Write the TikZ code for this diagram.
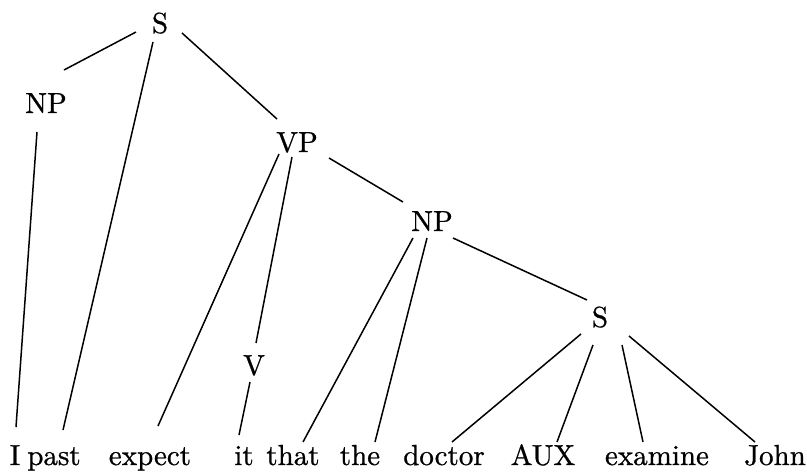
\documentclass[tikz,border=0pt]{standalone}
\usepackage{fontspec}
\newfontface\treefont{lmroman10-regular.otf}[FakeBold=0.8]
\usetikzlibrary{calc}
\begin{document}
\begin{tikzpicture}[x=1pt,y=-1pt,
  lab/.style={anchor=base,inner sep=0pt,font=\treefont\fontsize{29}{35}\selectfont},
  word/.style={anchor=base,inner sep=0pt,font=\treefont\fontsize{29}{35}\selectfont},
  edge/.style={line width=1.5pt}]
\useasboundingbox (0,0) rectangle (807,474);
\fill[white] (0,0) rectangle (807,474);
% category labels
\node[lab] (S1)  at (160,33)  {S};
\node[lab] (NP1) at (46,113)  {NP};
\node[lab] (VP)  at (297,152) {VP};
\node[lab] (NP2) at (432,231) {NP};
\node[lab] (S2)  at (600,327) {S};
\node[lab] (V)   at (254,375) {V};
% words
\node[word] (wI)       at (15,465)  {I};
\node[word] (wpast)    at (54,465)  {past};
\node[word] (wexpect)  at (150,465) {expect};
\node[word] (wit)      at (244,465) {it};
\node[word] (wthat)    at (293,465) {that};
\node[word] (wthe)     at (360,465) {the};
\node[word] (wdoctor)  at (444,465) {doctor};
\node[word] (wAUX)     at (543,465) {AUX};
\node[word] (wexamine) at (657,465) {examine};
\node[word] (wJohn)    at (775,465) {John};
% connectors
\draw[edge] ($(S1.base)+(-24,-1)$) -- ($(NP1.base)+(18,-43)$);
\draw[edge] ($(S1.base)+(-7,9)$)   -- ($(wpast.base)+(9,-35)$);
\draw[edge] ($(S1.base)+(22,0)$)   -- ($(VP.base)+(-20,-33)$);
\draw[edge] ($(NP1.base)+(-9,19)$) -- ($(wI.base)+(1,-38)$);
\draw[edge] ($(VP.base)+(-18,2)$)  -- ($(wexpect.base)+(8,-39)$);
\draw[edge] ($(VP.base)+(-5,5)$)   -- ($(V.base)+(2,-32)$);
\draw[edge] ($(V.base)+(-4,7)$)    -- ($(wit.base)+(-5,-30)$);
\draw[edge] ($(VP.base)+(32,6)$)   -- ($(NP2.base)+(-29,-29)$);
\draw[edge] ($(NP2.base)+(-19,7)$) -- ($(wthat.base)+(10,-23)$);
\draw[edge] ($(NP2.base)+(-5,7)$)  -- ($(wthe.base)+(15,-23)$);
\draw[edge] ($(NP2.base)+(21,7)$)  -- ($(S2.base)+(-13,-27)$);
\draw[edge] ($(S2.base)+(-19,7)$)  -- ($(wdoctor.base)+(8,-23)$);
\draw[edge] ($(S2.base)+(-7,18)$)  -- ($(wAUX.base)+(14,-23)$);
\draw[edge] ($(S2.base)+(22,18)$)  -- ($(wexamine.base)+(-14,-23)$);
\draw[edge] ($(S2.base)+(29,9)$)   -- ($(wJohn.base)+(-20,-23)$);
\end{tikzpicture}
\end{document}
